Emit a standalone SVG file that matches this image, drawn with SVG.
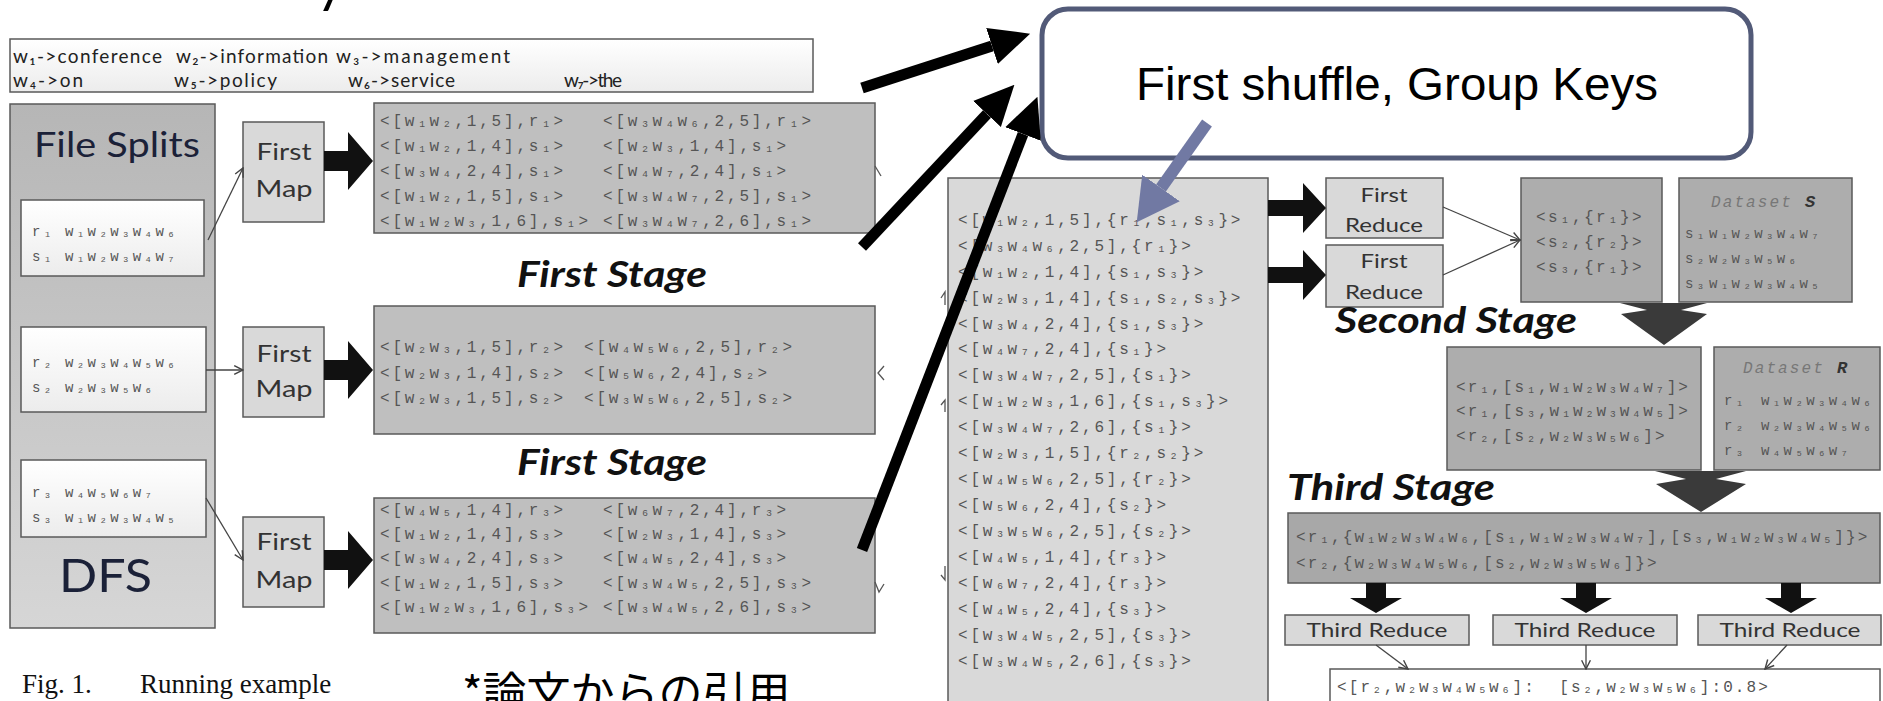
<svg xmlns="http://www.w3.org/2000/svg" width="1883" height="701" viewBox="0 0 1883 701">
<defs>
  <linearGradient id="gDfs" x1="0" y1="0" x2="0" y2="1">
    <stop offset="0" stop-color="#b6b6b6"/>
    <stop offset="1" stop-color="#d6d6d6"/>
  </linearGradient>
  <linearGradient id="gWhite" x1="0" y1="0" x2="0" y2="1">
    <stop offset="0" stop-color="#ffffff"/>
    <stop offset="1" stop-color="#ececec"/>
  </linearGradient>
  <marker id="open" viewBox="0 0 10 10" refX="9" refY="5" markerWidth="11" markerHeight="11" markerUnits="userSpaceOnUse" orient="auto">
    <path d="M1,1 L9,5 L1,9" fill="none" stroke="#444" stroke-width="1.3"/>
  </marker>
  <marker id="bigHead" viewBox="0 0 40 40" refX="0" refY="20" markerWidth="40" markerHeight="40" markerUnits="userSpaceOnUse" orient="auto">
    <path d="M0,1 L40,20 L0,39 Z" fill="#000"/>
  </marker>
  <marker id="blueHead" viewBox="0 0 42 46" refX="0" refY="23" markerWidth="42" markerHeight="46" markerUnits="userSpaceOnUse" orient="auto">
    <path d="M0,0 L42,23 L0,46 Z" fill="#7179a3"/>
  </marker>
</defs>
<style>
  .m124{font-family:"Liberation Mono","DejaVu Sans Mono",monospace;font-size:16px;fill:#555;letter-spacing:2.8px}
  .m117{font-family:"Liberation Mono","DejaVu Sans Mono",monospace;font-size:16px;fill:#555;letter-spacing:2.1px}
  .m12{font-family:"Liberation Mono","DejaVu Sans Mono",monospace;font-size:16px;fill:#555;letter-spacing:2.4px}
  .ms{font-family:"Liberation Mono","DejaVu Sans Mono",monospace;font-size:14px;fill:#555;letter-spacing:2.9px}
  .dsh{font-family:"Liberation Mono","DejaVu Sans Mono",monospace;font-size:16px;fill:#777;font-style:italic;letter-spacing:2.1px}
  .dsb{font-family:"Liberation Mono","DejaVu Sans Mono",monospace;font-size:17px;fill:#333;font-style:italic;font-weight:bold}
  .leg{font-family:Lato,"Liberation Sans",sans-serif;font-size:19px;fill:#222}
  .sans{font-family:Lato,"Liberation Sans",sans-serif;fill:#333}
  .stage{font-family:Lato,"Liberation Sans",sans-serif;font-size:36px;font-weight:bold;font-style:italic;fill:#111}
  .navy{font-family:Lato,"Liberation Sans",sans-serif;fill:#1b2138}
  .box{stroke:#5a5a5a;stroke-width:1.5}
  .conn{fill:none;stroke:#444;stroke-width:1.3;marker-end:url(#open)}
  .frag{fill:none;stroke:#555;stroke-width:1.3}
  .big{fill:#111}
  .thick{fill:none;stroke:#000;stroke-width:11;marker-end:url(#bigHead)}
</style>

<text x="316" y="1" font-family="Lato,'Liberation Sans',sans-serif" font-size="56" fill="#000">y</text>

<g id="legend">
  <rect x="10" y="39" width="803" height="53" fill="url(#gWhite)" class="box"/>
  <text class="leg" x="13" y="63" textLength="149" lengthAdjust="spacing">w₁-&gt;conference</text>
  <text class="leg" x="176" y="63" textLength="152" lengthAdjust="spacing">w₂-&gt;information</text>
  <text class="leg" x="336" y="63" textLength="174" lengthAdjust="spacing">w₃-&gt;management</text>
  <text class="leg" x="13" y="87" textLength="70" lengthAdjust="spacing">w₄-&gt;on</text>
  <text class="leg" x="174" y="87" textLength="103" lengthAdjust="spacing">w₅-&gt;policy</text>
  <text class="leg" x="348" y="87" textLength="107" lengthAdjust="spacing">w₆-&gt;service</text>
  <text class="leg" x="564" y="87" textLength="58" lengthAdjust="spacing">w₇-&gt;the</text>
</g>

<g id="dfs">
  <rect x="10" y="104" width="205" height="524" fill="url(#gDfs)" class="box"/>
  <text class="navy" x="34" y="157" font-size="34" textLength="166" lengthAdjust="spacingAndGlyphs">File Splits</text>
  <text class="navy" x="59" y="592" font-size="46" textLength="93" lengthAdjust="spacingAndGlyphs">DFS</text>
</g>

<g id="split1">
  <rect x="21" y="200" width="183" height="76" fill="url(#gWhite)" class="box"/>
  <text class="ms" y="236"><tspan x="32">r₁</tspan><tspan x="65">w₁w₂w₃w₄w₆</tspan></text>
  <text class="ms" y="261"><tspan x="32">s₁</tspan><tspan x="65">w₁w₂w₃w₄w₇</tspan></text>
</g>
<g id="split2">
  <rect x="21" y="327" width="185" height="85" fill="url(#gWhite)" class="box"/>
  <text class="ms" y="367"><tspan x="32">r₂</tspan><tspan x="65">w₂w₃w₄w₅w₆</tspan></text>
  <text class="ms" y="392"><tspan x="32">s₂</tspan><tspan x="65">w₂w₃w₅w₆</tspan></text>
</g>
<g id="split3">
  <rect x="21" y="460" width="185" height="77" fill="url(#gWhite)" class="box"/>
  <text class="ms" y="497"><tspan x="32">r₃</tspan><tspan x="65">w₄w₅w₆w₇</tspan></text>
  <text class="ms" y="522"><tspan x="32">s₃</tspan><tspan x="65">w₁w₂w₃w₄w₅</tspan></text>
</g>

<g id="map1">
  <rect x="243" y="122" width="81" height="100" fill="#d9d9d9" class="box"/>
  <text class="sans" x="284" y="160" font-size="24" text-anchor="middle" textLength="55" lengthAdjust="spacingAndGlyphs">First</text>
  <text class="sans" x="284" y="197" font-size="24" text-anchor="middle" textLength="57" lengthAdjust="spacingAndGlyphs">Map</text>
</g>
<g id="map2">
  <rect x="243" y="327" width="81" height="90" fill="#d9d9d9" class="box"/>
  <text class="sans" x="284" y="362" font-size="24" text-anchor="middle" textLength="55" lengthAdjust="spacingAndGlyphs">First</text>
  <text class="sans" x="284" y="397" font-size="24" text-anchor="middle" textLength="57" lengthAdjust="spacingAndGlyphs">Map</text>
</g>
<g id="map3">
  <rect x="243" y="517" width="81" height="90" fill="#d9d9d9" class="box"/>
  <text class="sans" x="284" y="550" font-size="24" text-anchor="middle" textLength="55" lengthAdjust="spacingAndGlyphs">First</text>
  <text class="sans" x="284" y="588" font-size="24" text-anchor="middle" textLength="57" lengthAdjust="spacingAndGlyphs">Map</text>
</g>

<g id="out1">
  <rect x="374" y="103" width="501" height="130" fill="#bfbfbf" class="box"/>
  <text class="m124" y="126"><tspan x="380">&lt;[w₁w₂,1,5],r₁&gt;</tspan><tspan x="603">&lt;[w₃w₄w₆,2,5],r₁&gt;</tspan></text>
  <text class="m124" y="151"><tspan x="380">&lt;[w₁w₂,1,4],s₁&gt;</tspan><tspan x="603">&lt;[w₂w₃,1,4],s₁&gt;</tspan></text>
  <text class="m124" y="176"><tspan x="380">&lt;[w₃w₄,2,4],s₁&gt;</tspan><tspan x="603">&lt;[w₄w₇,2,4],s₁&gt;</tspan></text>
  <text class="m124" y="201"><tspan x="380">&lt;[w₁w₂,1,5],s₁&gt;</tspan><tspan x="603">&lt;[w₃w₄w₇,2,5],s₁&gt;</tspan></text>
  <text class="m124" y="226"><tspan x="380">&lt;[w₁w₂w₃,1,6],s₁&gt;</tspan><tspan x="603">&lt;[w₃w₄w₇,2,6],s₁&gt;</tspan></text>
</g>
<g id="out2">
  <rect x="374" y="306" width="501" height="128" fill="#bfbfbf" class="box"/>
  <text class="m124" y="352"><tspan x="380">&lt;[w₂w₃,1,5],r₂&gt;</tspan><tspan x="584">&lt;[w₄w₅w₆,2,5],r₂&gt;</tspan></text>
  <text class="m124" y="378"><tspan x="380">&lt;[w₂w₃,1,4],s₂&gt;</tspan><tspan x="584">&lt;[w₅w₆,2,4],s₂&gt;</tspan></text>
  <text class="m124" y="403"><tspan x="380">&lt;[w₂w₃,1,5],s₂&gt;</tspan><tspan x="584">&lt;[w₃w₅w₆,2,5],s₂&gt;</tspan></text>
</g>
<g id="out3">
  <rect x="374" y="498" width="501" height="135" fill="#bfbfbf" class="box"/>
  <text class="m124" y="515"><tspan x="380">&lt;[w₄w₅,1,4],r₃&gt;</tspan><tspan x="603">&lt;[w₆w₇,2,4],r₃&gt;</tspan></text>
  <text class="m124" y="539"><tspan x="380">&lt;[w₁w₂,1,4],s₃&gt;</tspan><tspan x="603">&lt;[w₂w₃,1,4],s₃&gt;</tspan></text>
  <text class="m124" y="563"><tspan x="380">&lt;[w₃w₄,2,4],s₃&gt;</tspan><tspan x="603">&lt;[w₄w₅,2,4],s₃&gt;</tspan></text>
  <text class="m124" y="588"><tspan x="380">&lt;[w₁w₂,1,5],s₃&gt;</tspan><tspan x="603">&lt;[w₃w₄w₅,2,5],s₃&gt;</tspan></text>
  <text class="m124" y="612"><tspan x="380">&lt;[w₁w₂w₃,1,6],s₃&gt;</tspan><tspan x="603">&lt;[w₃w₄w₅,2,6],s₃&gt;</tspan></text>
</g>

<text class="stage" x="612" y="287" text-anchor="middle" textLength="190" lengthAdjust="spacingAndGlyphs">First Stage</text>
<text class="stage" x="612" y="475" text-anchor="middle" textLength="190" lengthAdjust="spacingAndGlyphs">First Stage</text>

<g id="shuffled">
  <rect x="948" y="178" width="320" height="540" fill="#d9d9d9" class="box"/>
  <text class="m124" x="958" y="225">&lt;[w₁w₂,1,5],{r₁,s₁,s₃}&gt;</text>
  <text class="m124" x="958" y="251">&lt;[w₃w₄w₆,2,5],{r₁}&gt;</text>
  <text class="m124" x="958" y="277">&lt;[w₁w₂,1,4],{s₁,s₃}&gt;</text>
  <text class="m124" x="958" y="303">&lt;[w₂w₃,1,4],{s₁,s₂,s₃}&gt;</text>
  <text class="m124" x="958" y="329">&lt;[w₃w₄,2,4],{s₁,s₃}&gt;</text>
  <text class="m124" x="958" y="354">&lt;[w₄w₇,2,4],{s₁}&gt;</text>
  <text class="m124" x="958" y="380">&lt;[w₃w₄w₇,2,5],{s₁}&gt;</text>
  <text class="m124" x="958" y="406">&lt;[w₁w₂w₃,1,6],{s₁,s₃}&gt;</text>
  <text class="m124" x="958" y="432">&lt;[w₃w₄w₇,2,6],{s₁}&gt;</text>
  <text class="m124" x="958" y="458">&lt;[w₂w₃,1,5],{r₂,s₂}&gt;</text>
  <text class="m124" x="958" y="484">&lt;[w₄w₅w₆,2,5],{r₂}&gt;</text>
  <text class="m124" x="958" y="510">&lt;[w₅w₆,2,4],{s₂}&gt;</text>
  <text class="m124" x="958" y="536">&lt;[w₃w₅w₆,2,5],{s₂}&gt;</text>
  <text class="m124" x="958" y="562">&lt;[w₄w₅,1,4],{r₃}&gt;</text>
  <text class="m124" x="958" y="588">&lt;[w₆w₇,2,4],{r₃}&gt;</text>
  <text class="m124" x="958" y="614">&lt;[w₄w₅,2,4],{s₃}&gt;</text>
  <text class="m124" x="958" y="640">&lt;[w₃w₄w₅,2,5],{s₃}&gt;</text>
  <text class="m124" x="958" y="666">&lt;[w₃w₄w₅,2,6],{s₃}&gt;</text>
</g>

<g id="reduce1a">
  <rect x="1326" y="178" width="117" height="60" fill="#d9d9d9" class="box"/>
  <text class="sans" x="1384" y="202" font-size="20" text-anchor="middle" textLength="47" lengthAdjust="spacingAndGlyphs">First</text>
  <text class="sans" x="1384" y="232" font-size="20" text-anchor="middle" textLength="78" lengthAdjust="spacingAndGlyphs">Reduce</text>
</g>
<g id="reduce1b">
  <rect x="1326" y="245" width="117" height="62" fill="#d9d9d9" class="box"/>
  <text class="sans" x="1384" y="268" font-size="20" text-anchor="middle" textLength="47" lengthAdjust="spacingAndGlyphs">First</text>
  <text class="sans" x="1384" y="299" font-size="20" text-anchor="middle" textLength="78" lengthAdjust="spacingAndGlyphs">Reduce</text>
</g>

<g id="sgroups">
  <rect x="1521" y="178" width="141" height="124" fill="#adadad" class="box"/>
  <text class="m12" x="1536" y="222">&lt;s₁,{r₁}&gt;</text>
  <text class="m12" x="1536" y="247">&lt;s₂,{r₂}&gt;</text>
  <text class="m12" x="1536" y="272">&lt;s₃,{r₁}&gt;</text>
</g>
<g id="datasetS">
  <rect x="1679" y="178" width="173" height="124" fill="#adadad" class="box"/>
  <text class="dsh" x="1711" y="207">Dataset</text>
  <text class="dsb" x="1805" y="207">S</text>
  <text class="ms" y="238"><tspan x="1685">s₁</tspan><tspan x="1709">w₁w₂w₃w₄w₇</tspan></text>
  <text class="ms" y="263"><tspan x="1685">s₂</tspan><tspan x="1709">w₂w₃w₅w₆</tspan></text>
  <text class="ms" y="288"><tspan x="1685">s₃</tspan><tspan x="1709">w₁w₂w₃w₄w₅</tspan></text>
</g>

<text class="stage" x="1335" y="333" textLength="242" lengthAdjust="spacingAndGlyphs">Second Stage</text>

<g id="rjoin">
  <rect x="1447" y="347" width="254" height="123" fill="#adadad" class="box"/>
  <text class="m117" x="1456" y="392">&lt;r₁,[s₁,w₁w₂w₃w₄w₇]&gt;</text>
  <text class="m117" x="1456" y="416">&lt;r₁,[s₃,w₁w₂w₃w₄w₅]&gt;</text>
  <text class="m117" x="1456" y="441">&lt;r₂,[s₂,w₂w₃w₅w₆]&gt;</text>
</g>
<g id="datasetR">
  <rect x="1714" y="347" width="166" height="123" fill="#adadad" class="box"/>
  <text class="dsh" x="1743" y="373">Dataset</text>
  <text class="dsb" x="1837" y="373">R</text>
  <text class="ms" y="405"><tspan x="1724">r₁</tspan><tspan x="1761">w₁w₂w₃w₄w₆</tspan></text>
  <text class="ms" y="430"><tspan x="1724">r₂</tspan><tspan x="1761">w₂w₃w₄w₅w₆</tspan></text>
  <text class="ms" y="455"><tspan x="1724">r₃</tspan><tspan x="1761">w₄w₅w₆w₇</tspan></text>
</g>

<text class="stage" x="1287" y="500" textLength="208" lengthAdjust="spacingAndGlyphs">Third Stage</text>

<g id="thirdInput">
  <rect x="1288" y="513" width="592" height="70" fill="#a8a8a8" class="box"/>
  <text class="m117" x="1296" y="542">&lt;r₁,{w₁w₂w₃w₄w₆,[s₁,w₁w₂w₃w₄w₇],[s₃,w₁w₂w₃w₄w₅]}&gt;</text>
  <text class="m117" x="1296" y="568">&lt;r₂,{w₂w₃w₄w₅w₆,[s₂,w₂w₃w₅w₆]}&gt;</text>
</g>

<g id="reduce3a">
  <rect x="1285" y="615" width="184" height="30" fill="#d9d9d9" class="box"/>
  <text class="sans" x="1377" y="637" font-size="20" text-anchor="middle" textLength="141" lengthAdjust="spacingAndGlyphs">Third Reduce</text>
</g>
<g id="reduce3b">
  <rect x="1493" y="615" width="184" height="30" fill="#d9d9d9" class="box"/>
  <text class="sans" x="1585" y="637" font-size="20" text-anchor="middle" textLength="141" lengthAdjust="spacingAndGlyphs">Third Reduce</text>
</g>
<g id="reduce3c">
  <rect x="1698" y="615" width="183" height="30" fill="#d9d9d9" class="box"/>
  <text class="sans" x="1790" y="637" font-size="20" text-anchor="middle" textLength="141" lengthAdjust="spacingAndGlyphs">Third Reduce</text>
</g>

<g id="result">
  <rect x="1330" y="669" width="550" height="45" fill="#ffffff" class="box"/>
  <text class="m117" x="1337" y="692" xml:space="preserve">&lt;[r₂,w₂w₃w₄w₅w₆]:  [s₂,w₂w₃w₅w₆]:0.8&gt;</text>
</g>

<g id="connectors">
  <line class="conn" x1="208" y1="240" x2="243" y2="168"/>
  <line class="conn" x1="206" y1="370" x2="243" y2="370"/>
  <line class="conn" x1="206" y1="498" x2="243" y2="560"/>
  <line class="conn" x1="1443" y1="207" x2="1520" y2="240"/>
  <line class="conn" x1="1443" y1="275" x2="1520" y2="240"/>
  <line class="conn" x1="1376" y1="645" x2="1408" y2="669"/>
  <line class="conn" x1="1586" y1="645" x2="1586" y2="669"/>
  <line class="conn" x1="1787" y1="645" x2="1765" y2="669"/>
  <polyline class="frag" points="875,166 881,176"/>
  <polyline class="frag" points="884,366 878,373 884,380"/>
  <polyline class="frag" points="875,582 879,592 884,584"/>
  <polyline class="frag" points="945,305 945,292 941,298"/>
  <polyline class="frag" points="945,412 945,400 941,405"/>
  <polyline class="frag" points="945,566 945,580 941,575"/>
  <polygon class="big" points="324,151 348,151 348,132 373,161 348,190 348,171 324,171"/>
  <polygon class="big" points="324,360 348,360 348,341 373,370 348,399 348,380 324,380"/>
  <polygon class="big" points="324,550 348,550 348,531 373,560 348,589 348,570 324,570"/>
  <polygon class="big" points="1268,200 1303,200 1303,183 1326,208 1303,233 1303,216 1268,216"/>
  <polygon class="big" points="1268,267 1303,267 1303,250 1326,275 1303,300 1303,283 1268,283"/>
  <polygon class="big" points="1366,583 1386,583 1386,598 1402,598 1376,613 1350,598 1366,598"/>
  <polygon class="big" points="1576,583 1596,583 1596,598 1612,598 1586,613 1560,598 1576,598"/>
  <polygon class="big" points="1781,583 1801,583 1801,598 1817,598 1791,613 1765,598 1781,598"/>
  <polygon fill="#3a3a3a" points="1620,303 1707,303 1681,310 1707,314 1664,345 1621,314 1647,310"/>
  <polygon fill="#3a3a3a" points="1655,471 1746,471 1716,479 1746,484 1701,512 1656,484 1686,479"/>
</g>

<g id="callout">
  <rect x="1042" y="9" width="709" height="149" rx="26" ry="26" fill="#ffffff" stroke="#525a78" stroke-width="5"/>
  <text x="1397" y="100" font-family="'Liberation Sans',Arial,sans-serif" font-size="46" fill="#000" text-anchor="middle" textLength="522" lengthAdjust="spacingAndGlyphs">First shuffle, Group Keys</text>
</g>

<g id="callout-arrows">
  <line class="thick" x1="862" y1="88" x2="992" y2="46"/>
  <line class="thick" x1="862" y1="247" x2="987" y2="114"/>
  <line class="thick" x1="862" y1="550" x2="1023" y2="134"/>
  <line x1="1207" y1="123" x2="1161" y2="188" stroke="#7179a3" stroke-width="12" marker-end="url(#blueHead)"/>
</g>

<text x="22" y="693" font-family="'Liberation Serif','Times New Roman',serif" font-size="27" fill="#111">Fig. 1.</text>
<text x="140" y="693" font-family="'Liberation Serif','Times New Roman',serif" font-size="27" fill="#111">Running example</text>
<text x="462" y="709" font-family="'Noto Sans CJK JP','Noto Sans CJK SC',sans-serif" font-size="44" fill="#000">*論文からの引用</text>
</svg>
